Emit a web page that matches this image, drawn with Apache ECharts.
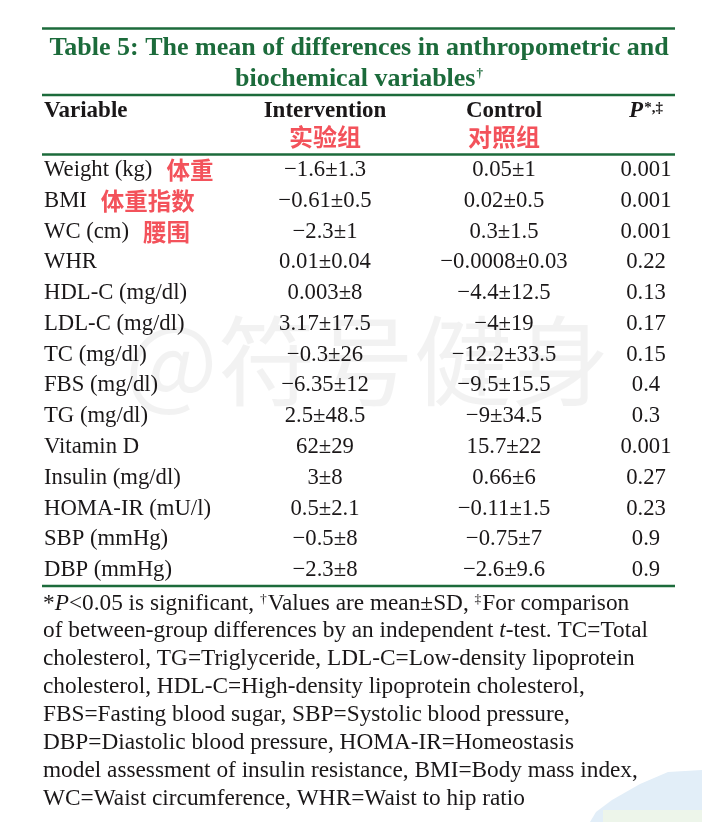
<!DOCTYPE html>
<html>
<head>
<meta charset="utf-8">
<script src="https://cdn.jsdelivr.net/npm/echarts@6/dist/echarts.min.js"></script>
<style>
  html, body { margin: 0; padding: 0; background: #ffffff; }
  #main { width: 702px; height: 822px; }
</style>
</head>
<body>
<div id="main"></div>
<script>
// ---- data ----
const rows = ['Weight (kg)', 'BMI', 'WC (cm)', 'WHR', 'HDL-C (mg/dl)', 'LDL-C (mg/dl)', 'TC (mg/dl)',
  'FBS (mg/dl)', 'TG (mg/dl)', 'Vitamin D', 'Insulin (mg/dl)', 'HOMA-IR (mU/l)', 'SBP (mmHg)', 'DBP (mmHg)'];
const rowsZh = ['体重', '体重指数', '腰围', '', '', '', '', '', '', '', '', '', '', ''];
const interventionMean = [-1.6, -0.61, -2.3, 0.01, 0.003, 3.17, -0.3, -6.35, 2.5, 62, 3, 0.5, -0.5, -2.3];
const interventionSD = [1.3, 0.5, 1, 0.04, 8, 17.5, 26, 12, 48.5, 29, 8, 2.1, 8, 8];
const controlMean = [0.05, 0.02, 0.3, -0.0008, -4.4, -4, -12.2, -9.5, -9, 15.7, 0.66, -0.11, -0.75, -2.6];
const controlSD = [1, 0.5, 1.5, 0.03, 12.5, 19, 33.5, 15.5, 34.5, 22, 6, 1.5, 7, 9.6];
const pValues = [0.001, 0.001, 0.001, 0.22, 0.13, 0.17, 0.15, 0.4, 0.3, 0.001, 0.27, 0.23, 0.9, 0.9];
const columns = ['Variable', 'Intervention', 'Control', 'P'];
const columnsZh = ['', '实验组', '对照组', ''];
const titleLines = ['Table 5: The mean of differences in anthropometric and', 'biochemical variables'];
const watermark = '@符号健身';

// ---- helpers ----
const SERIF = '"Liberation Serif", "Times New Roman", serif';
const CJK = '"Noto Sans CJK SC", sans-serif';
const INK = '#1a1718';
const GREEN = '#1c6b3b';
const RED = '#f3525b';
const fmt = v => (v < 0 ? '\u2212' : '') + String(Math.abs(v));
const pm = (m, s) => fmt(m) + '\u00b1' + fmt(s);

const cellText = [
  rows.map((r, i) => rowsZh[i] ? '{v|' + r + '}{z|' + rowsZh[i] + '}' : '{v|' + r + '}'),
  rows.map((r, i) => '{v|' + pm(interventionMean[i], interventionSD[i]) + '}'),
  rows.map((r, i) => '{v|' + pm(controlMean[i], controlSD[i]) + '}'),
  rows.map((r, i) => '{v|' + String(pValues[i]) + '}')
];

const colCenter = [44, 325, 504, 650];
const colAlign = ['left', 'center', 'center', 'center'];
const GRID_TOP = 154.6, GRID_H = 431;

const richBody = {
  v: { fontFamily: SERIF, fontWeight: 'normal', fontSize: 22.7, color: INK, lineHeight: 28, textBorderWidth: 0 },
  z: { fontFamily: CJK, fontWeight: 'bold', fontSize: 23.5, color: RED, padding: [0, 0, 0, 14], lineHeight: 28, textBorderWidth: 0 }
};
const richHead = {
  h: { fontFamily: SERIF, fontWeight: 'bold', fontSize: 23, color: INK, lineHeight: 25 },
  p: { fontFamily: SERIF, fontWeight: 'bold', fontStyle: 'italic', fontSize: 23, color: INK, lineHeight: 25 },
  s: { fontFamily: SERIF, fontWeight: 'bold', fontSize: 15, color: INK, lineHeight: 25, verticalAlign: 'top', padding: [2, 0, 0, 1] },
  z: { fontFamily: CJK, fontWeight: 'bold', fontSize: 24, color: RED, lineHeight: 27 }
};

const grids = [], xAxes = [], yAxes = [], series = [];
columns.forEach((c, k) => {
  const w = k === 0 ? 1 : 120;
  grids.push({ left: colCenter[k] - w / 2, width: w, top: GRID_TOP, height: GRID_H, containLabel: false });
  xAxes.push({
    gridIndex: k, type: 'category', data: [c], position: 'top',
    axisLine: { show: false }, axisTick: { show: false }, splitLine: { show: false },
    axisLabel: {
      interval: 0, margin: 4, align: colAlign[k],
      formatter: () => {
        const head = k === 3 ? '{p|P}{s|*,\u2021}' : '{h|' + c + '}';
        return head + '\n{z|' + (columnsZh[k] || ' ') + '}';
      },
      rich: richHead
    }
  });
  yAxes.push({ gridIndex: k, type: 'category', data: rows, inverse: true, show: false });
  series.push({
    type: 'scatter', xAxisIndex: k, yAxisIndex: k, symbolSize: 1, silent: true,
    itemStyle: { color: 'rgba(0,0,0,0)' },
    data: rows.map(r => [c, r]),
    label: {
      show: true, position: 'inside', align: colAlign[k], verticalAlign: 'middle',
      color: INK, opacity: 1, textBorderWidth: 0, textBorderColor: 'transparent',
      formatter: p => cellText[k][p.dataIndex], rich: richBody
    },
    emphasis: { disabled: true }
  });
});

const FS = 23.3;
const footRich = {
  n: { fontFamily: SERIF, fontWeight: 'normal', fontSize: FS, color: INK, lineHeight: 27.9 },
  i: { fontFamily: SERIF, fontWeight: 'normal', fontStyle: 'italic', fontSize: FS, color: INK, lineHeight: 27.9 },
  sup: { fontFamily: SERIF, fontWeight: 'normal', fontSize: 13.5, color: INK, lineHeight: 27.9, verticalAlign: 'top', padding: [3, 1, 0, 0] }
};
const footText = [
  '{n|*}{i|P}{n|<0.05 is significant, }{sup|\u2020}{n|Values are mean\u00b1SD, }{sup|\u2021}{n|For comparison}',
  '{n|of between-group differences by an independent }{i|t}{n|-test. TC=Total}',
  '{n|cholesterol, TG=Triglyceride, LDL-C=Low-density lipoprotein}',
  '{n|cholesterol, HDL-C=High-density lipoprotein cholesterol,}',
  '{n|FBS=Fasting blood sugar, SBP=Systolic blood pressure,}',
  '{n|DBP=Diastolic blood pressure, HOMA-IR=Homeostasis}',
  '{n|model assessment of insulin resistance, BMI=Body mass index,}',
  '{n|WC=Waist circumference, WHR=Waist to hip ratio}'
].join('\n');

const ruleY = [28.5, 95, 154.5, 586];
const rules = ruleY.map(y => ({
  type: 'line', z: 10, silent: true,
  shape: { x1: 42, y1: y, x2: 675, y2: y },
  style: { stroke: GREEN, lineWidth: 2.6 }
}));

const chart = echarts.init(document.getElementById('main'), null, { renderer: 'canvas' });
chart.setOption({
  animation: false,
  backgroundColor: '#ffffff',
  title: [
    {
      text: '{t|' + titleLines[0] + '}\n{t|' + titleLines[1] + '}{sup|\u2020}',
      left: 359, top: 33, textAlign: 'center', padding: 0,
      textStyle: {
        rich: {
          t: { fontFamily: SERIF, fontWeight: 'bold', fontSize: 26, color: GREEN, lineHeight: 31 },
          sup: { fontFamily: SERIF, fontWeight: 'bold', fontSize: 13, color: GREEN, lineHeight: 31, verticalAlign: 'top', padding: [3, 0, 0, 1] }
        }
      }
    },
    {
      text: footText, left: 43, top: 589.5, padding: 0,
      textStyle: { fontWeight: 'normal', rich: footRich }
    }
  ],
  grid: grids, xAxis: xAxes, yAxis: yAxes, series: series,
  graphic: [
    {
      type: 'text', z: -10, silent: true, left: 125, top: 312,
      style: { text: watermark, font: '98px "Noto Sans CJK SC", sans-serif', fill: 'rgba(0,0,0,0.05)' }
    },
    {
      type: 'polygon', z: -20, silent: true,
      shape: { points: [[702, 770], [668, 772], [640, 784], [612, 800], [596, 812], [590, 822], [702, 822]] },
      style: { fill: '#e2eef8' }
    },
    {
      type: 'rect', z: -19, silent: true,
      shape: { x: 603, y: 810, width: 99, height: 12 },
      style: { fill: '#edf5ea' }
    }
  ].concat(rules)
});
</script>
</body>
</html>
